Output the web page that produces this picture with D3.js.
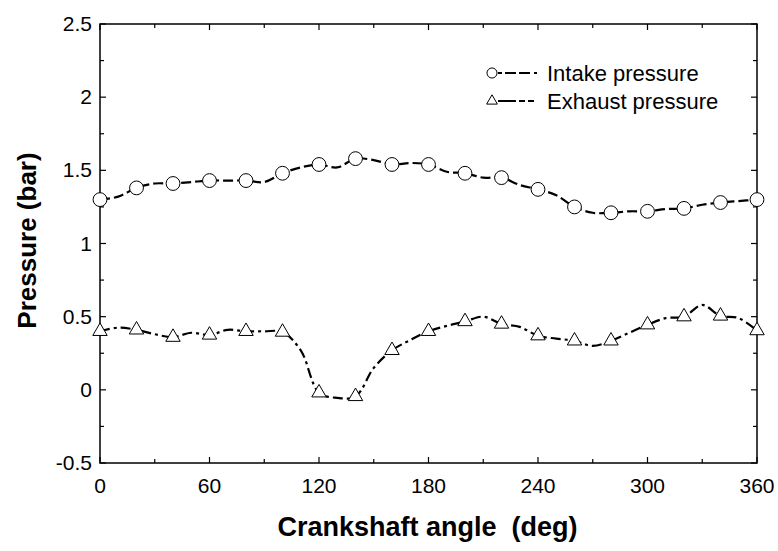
<!DOCTYPE html>
<html><head><meta charset="utf-8">
<script src="https://cdn.jsdelivr.net/npm/d3@7"></script>
<style>body{margin:0;background:#fff}svg{display:block}text{font-family:"Liberation Sans",Arial,sans-serif;white-space:pre}</style>
</head><body><svg id="c" width="778" height="551"></svg>
<script>
const angles = d3.range(0, 361, 10);
const intake = [1.30,1.32,1.38,1.41,1.41,1.42,1.43,1.43,1.43,1.42,1.48,1.52,1.54,1.52,1.58,1.57,1.54,1.55,1.54,1.49,1.48,1.45,1.45,1.40,1.37,1.33,1.25,1.21,1.21,1.22,1.22,1.235,1.24,1.265,1.28,1.29,1.30];
const exhaust = [0.40,0.425,0.41,0.38,0.36,0.39,0.375,0.41,0.40,0.40,0.395,0.27,-0.02,-0.055,-0.045,0.15,0.27,0.34,0.40,0.437,0.467,0.50,0.45,0.43,0.37,0.35,0.335,0.30,0.335,0.39,0.445,0.49,0.50,0.58,0.505,0.49,0.405];
const xTicks = [0,60,120,180,240,300,360];
const yTicks = [-0.5,0,0.5,1,1.5,2,2.5];
const seriesNames = ["Intake pressure","Exhaust pressure"];

const svg = d3.select("#c");
const L=100, R=757, T=24, B=463;
const x = d3.scaleLinear().domain([0,360]).range([L,R]);
const y = d3.scaleLinear().domain([-0.5,2.5]).range([B,T]);

svg.append("rect").attr("x",L).attr("y",T).attr("width",R-L).attr("height",B-T)
  .attr("fill","none").attr("stroke","#000").attr("stroke-width",1.5);

const xMinor = d3.range(0,361,30), yMinor = d3.range(-0.5,2.51,0.25);
const g = svg.append("g").attr("stroke","#000").attr("stroke-width",1.2);
xMinor.forEach(v=>{
  const len = v%60===0?6:4;
  g.append("line").attr("x1",x(v)).attr("x2",x(v)).attr("y1",B).attr("y2",B-len);
  g.append("line").attr("x1",x(v)).attr("x2",x(v)).attr("y1",T).attr("y2",T+len);
});
yMinor.forEach(v=>{
  const major = Math.abs(v*2-Math.round(v*2))<1e-6;
  const len = major?6:4;
  g.append("line").attr("x1",L).attr("x2",L+len).attr("y1",y(v)).attr("y2",y(v));
  g.append("line").attr("x1",R).attr("x2",R-len).attr("y1",y(v)).attr("y2",y(v));
});

svg.selectAll(".xl").data(xTicks).join("text").attr("x",d=>x(d)).attr("y",B+30)
  .attr("text-anchor","middle").attr("font-size",21).text(d=>d);
svg.selectAll(".yl").data(yTicks).join("text").attr("x",L-8).attr("y",d=>y(d)+7)
  .attr("text-anchor","end").attr("font-size",21).text(d=>d);

svg.append("text").attr("x",(L+R)/2-1).attr("y",536).attr("text-anchor","middle")
  .attr("font-size",27).attr("font-weight","bold").text("Crankshaft angle  (deg)");
svg.append("text").attr("transform",`translate(36,${(T+B)/2-3}) rotate(-90)`).attr("text-anchor","middle")
  .attr("font-size",26).attr("font-weight","bold").text("Pressure (bar)");

const line = d3.line().x(d=>x(d[0])).y(d=>y(d[1])).curve(d3.curveCatmullRom);
const dI = angles.map((a,i)=>[a,intake[i]]);
const dE = angles.map((a,i)=>[a,exhaust[i]]);
svg.append("path").attr("d",line(dI)).attr("fill","none").attr("stroke","#000").attr("stroke-width",2.2).attr("stroke-dasharray","10,4");
svg.append("path").attr("d",line(dE)).attr("fill","none").attr("stroke","#000").attr("stroke-width",2.2).attr("stroke-dasharray","10,4,3,4");

const circ = d3.symbol().type(d3.symbolCircle).size(150);
const tri = d3.symbol().type(d3.symbolTriangle).size(90);
svg.selectAll(".mi").data(dI.filter(d=>d[0]%20===0)).join("path")
  .attr("transform",d=>`translate(${x(d[0])},${y(d[1])})`).attr("d",circ)
  .attr("fill","#fff").attr("stroke","#000").attr("stroke-width",1);
svg.selectAll(".me").data(dE.filter(d=>d[0]%20===0)).join("path")
  .attr("transform",d=>`translate(${x(d[0])},${y(d[1])})`).attr("d",tri)
  .attr("fill","#fff").attr("stroke","#000").attr("stroke-width",1);

const lg = svg.append("g");
const rows = [{y:73,sym:d3.symbol().type(d3.symbolCircle).size(80),dash:"4,3,11,3,11"},{y:101,sym:d3.symbol().type(d3.symbolTriangle).size(50),dash:"18,3,6,3,6"}];
rows.forEach((r,i)=>{
  lg.append("path").attr("transform",`translate(492,${r.y})`).attr("d",r.sym).attr("fill","#fff").attr("stroke","#000").attr("stroke-width",1);
  lg.append("line").attr("x1",498).attr("x2",546).attr("y1",r.y).attr("y2",r.y).attr("stroke","#000").attr("stroke-width",2).attr("stroke-dasharray",r.dash);
  lg.append("text").attr("x",547).attr("y",r.y+8).attr("font-size",22).text(seriesNames[i]);
});
</script></body></html>
